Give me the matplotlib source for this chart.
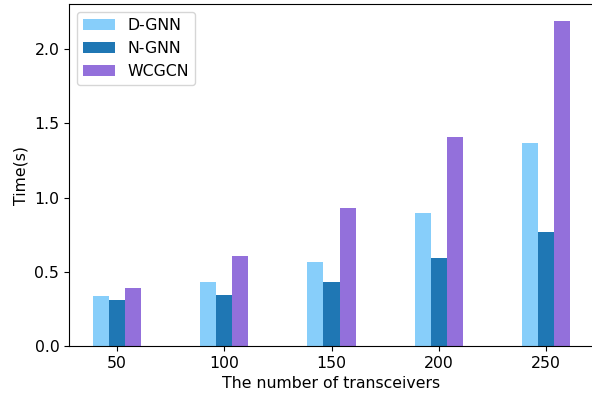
import matplotlib
matplotlib.use("Agg")
import matplotlib.pyplot as plt
import numpy as np

categories = ["50", "100", "150", "200", "250"]
d_gnn = [0.337, 0.432, 0.567, 0.897, 1.368]
n_gnn = [0.312, 0.344, 0.432, 0.592, 0.769]
wcgcn = [0.389, 0.609, 0.929, 1.406, 2.193]

fig = plt.figure(figsize=(5.92, 4.03), dpi=100)
ax = fig.add_axes([0.1166, 0.1414, 0.8868, 0.8479])
x = np.arange(len(categories))
w = 0.15
ax.bar(x - w, d_gnn, w, color="#87CEFA", label="D-GNN")
ax.bar(x, n_gnn, w, color="#1f77b4", label="N-GNN")
ax.bar(x + w, wcgcn, w, color="#9370DB", label="WCGCN")
ax.set_xticks(x)
ax.set_xticklabels(categories)
fs = 11.3
ax.tick_params(labelsize=fs)
ax.set_xlabel("The number of transceivers", fontsize=fs)
ax.set_ylabel("Time(s)", fontsize=fs)
ax.legend(loc="upper left", fontsize=fs)
fig.savefig("out.png", dpi=100)
